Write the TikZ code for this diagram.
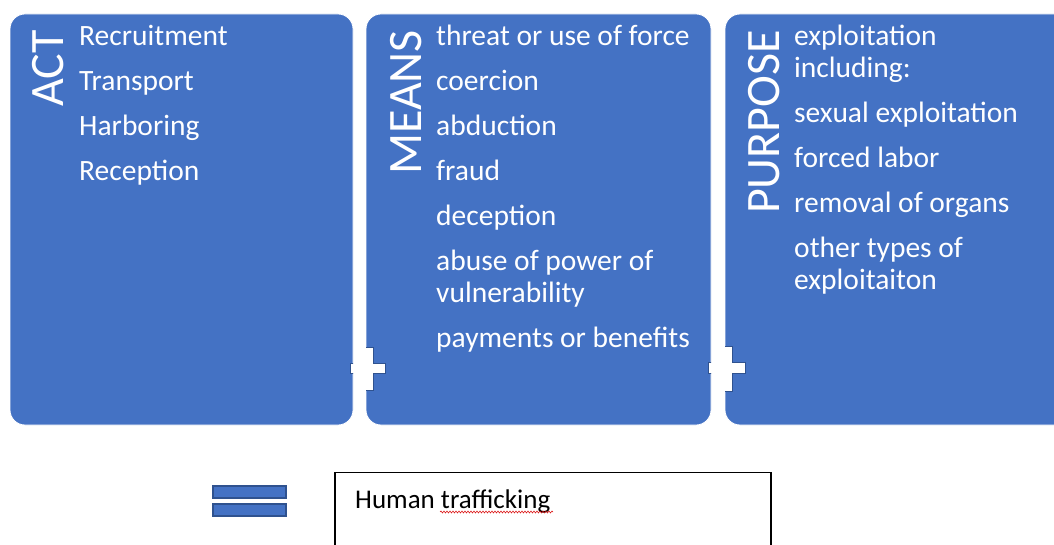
\documentclass[tikz,border=0pt]{standalone}
\usepackage{fontspec}
\setmainfont{Carlito}
\usetikzlibrary{decorations.pathmorphing}
\definecolor{boxblue}{HTML}{4472C4}
\definecolor{darkblue}{HTML}{2F528F}
\begin{document}
\begin{tikzpicture}[x=1pt,y=-1pt,
  panel/.style={fill=boxblue, draw=white, line width=0.8pt, rounded corners=15pt},
  item/.style={anchor=base west, inner sep=0pt, text=white, font=\fontsize{29.5}{32}\selectfont},
  paneltitle/.style={anchor=base east, inner sep=0pt, rotate=90, text=white, font=\fontsize{48}{50}\selectfont},
  plusfill/.style={fill=white},
  plusline/.style={draw=darkblue, line width=0.7pt},
  eqbar/.style={fill=boxblue, draw=darkblue, line width=1.5pt}]
\useasboundingbox (0,0) rectangle (1054,545);
\fill[white] (0,0) rectangle (1054,545);

% panels
\draw[panel] (10,14) rectangle (353,425);
\draw[panel] (366,14) rectangle (711,425);
\draw[panel] (725,14) rectangle (1080,425);

% titles
\node[paneltitle] (act) at (63,30) {ACT};
\node[paneltitle] (means) at (421,30) {MEANS};
\node[paneltitle] (purpose) at (779,30) {PURPOSE};

% ACT items
\node[item] (a1) at (79,45.5) {Recruitment};
\node[item] (a2) at (79,90.5) {Transport};
\node[item] (a3) at (79,135.5) {Harboring};
\node[item] (a4) at (79,180.5) {Reception};

% MEANS items
\node[item] (m1) at (436,45.5) {threat or use of force};
\node[item] (m2) at (436,90.5) {coercion};
\node[item] (m3) at (436,135.5) {abduction};
\node[item] (m4) at (436,180.5) {fraud};
\node[item] (m5) at (436,225.5) {deception};
\node[item] (m6) at (436,270.5) {abuse of power of};
\node[item] (m6b) at (436,302.5) {vulnerability};
\node[item] (m7) at (436,347.5) {payments or benefits};

% PURPOSE items
\node[item] (p1) at (794,45.5) {exploitation};
\node[item] (p1b) at (794,77.5) {including:};
\node[item] (p2) at (794,122.5) {sexual exploitation};
\node[item] (p3) at (794,167.5) {forced labor};
\node[item] (p4) at (794,212.5) {removal of organs};
\node[item] (p5) at (794,257.5) {other types of};
\node[item] (p5b) at (794,289.5) {exploitaiton};

% plus signs
\def\plusA{(362,347) -- (373,347) -- (373,363) -- (385,363) -- (385,373) -- (373,373)
  -- (373,390) -- (362,390) -- (362,373) -- (350,373) -- (350,363) -- (362,363) -- cycle}
\def\plusB{(720,346) -- (732,346) -- (732,362) -- (745,362) -- (745,373) -- (732,373)
  -- (732,391) -- (720,391) -- (720,373) -- (708,373) -- (708,362) -- (720,362) -- cycle}
\fill[plusfill] \plusA;
\fill[plusfill] \plusB;
\begin{scope}
  \clip[rounded corners=15pt] (10,14) rectangle (353,425) (366,14) rectangle (711,425) (725,14) rectangle (1080,425);
  \draw[plusline] \plusA;
  \draw[plusline] \plusB;
\end{scope}

% equals sign
\draw[eqbar] (213,486) rectangle (286,498);
\draw[eqbar] (213,504) rectangle (286,516);

% result box
\draw[black, line width=1.2pt] (335,560) -- (335,472.5) -- (771,472.5) -- (771,560);
\node[anchor=base west, inner sep=0pt, font=\fontsize{27}{30}\selectfont] (ht) at (355,508) {Human trafficking};
\coordinate (w1) at (440,512);
\coordinate (w2) at (553,512);
\draw[red!85!black, line width=0.5pt, decorate, decoration={snake, amplitude=1pt, segment length=3pt}] (w1) -- (w2);
\end{tikzpicture}
\end{document}
